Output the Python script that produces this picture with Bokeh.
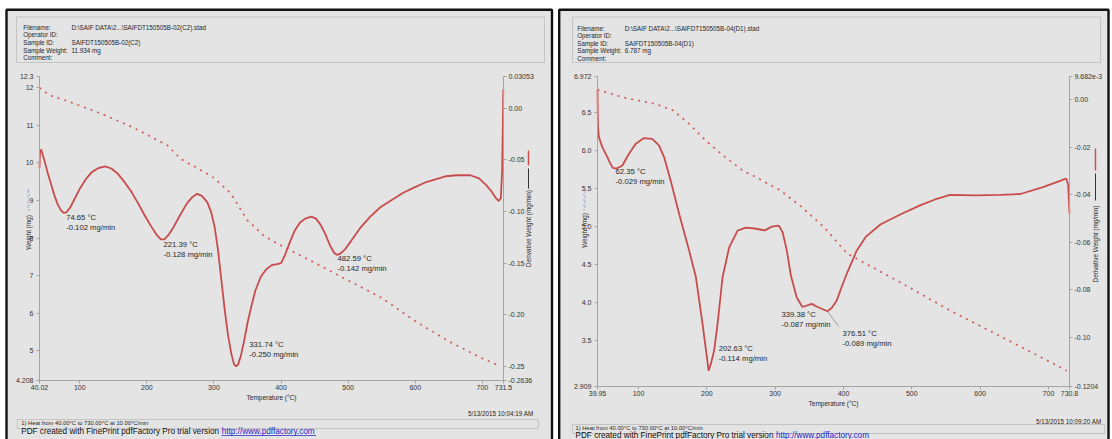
import math
from bokeh.plotting import figure
from bokeh.models import Range1d, LinearAxis, FixedTicker, Label, BoxAnnotation
from bokeh.layouts import row
from bokeh.embed import file_html
from bokeh.resources import INLINE

FONT = "Liberation Sans"
BG = "#e4e4e4"
RED = "#c94c4c"
DOT = "#d05a5a"
AX = "#a4a4a4"
TXT = "#262626"

# ---------------- data : sample C2 (left) ----------------
c2_deriv_temp = [40.02, 40.8, 42.5, 47, 52, 57, 62, 67, 72, 76, 80, 86, 93, 101, 110, 118, 128, 138,
                 147, 156, 166, 176, 186, 196, 206, 215, 221, 226, 232, 240, 250, 260, 268, 275, 282,
                 290, 296, 301, 306, 311, 316, 321, 326, 330, 333, 336, 340, 345, 350, 356, 362, 370,
                 378, 386, 394, 400, 406, 413, 420, 428, 436, 445, 452, 459, 466, 473, 479, 483, 488,
                 495, 505, 518, 533, 548, 565, 582, 598, 615, 630, 645, 662, 682, 695, 705, 713, 720,
                 724.5, 727.5, 729.5, 730.5, 731.2]
c2_deriv = [-0.058, -0.042, -0.040, -0.050, -0.062, -0.073, -0.084, -0.093, -0.099, -0.1015, -0.101,
            -0.096, -0.087, -0.077, -0.068, -0.062, -0.058, -0.0565, -0.0585, -0.063, -0.071, -0.080,
            -0.091, -0.103, -0.114, -0.123, -0.127, -0.127, -0.123, -0.115, -0.103, -0.092, -0.086,
            -0.083, -0.085, -0.091, -0.101, -0.115, -0.137, -0.166, -0.195, -0.220, -0.238, -0.248,
            -0.250, -0.248, -0.240, -0.225, -0.208, -0.191, -0.176, -0.163, -0.156, -0.152, -0.151,
            -0.150, -0.142, -0.130, -0.119, -0.111, -0.107, -0.105, -0.107, -0.113, -0.122, -0.133,
            -0.140, -0.142, -0.141, -0.137, -0.128, -0.116, -0.105, -0.096, -0.089, -0.082, -0.077,
            -0.072, -0.069, -0.066, -0.065, -0.065, -0.068, -0.074, -0.080, -0.087, -0.090, -0.087,
            -0.060, -0.020, 0.018]
c2_weight_temp = [40.02, 55, 81, 131, 180, 231, 251, 281, 300, 325, 350, 375, 400, 449, 500, 549, 598,
                  648, 697, 724]
c2_weight = [12.0, 11.8, 11.65, 11.32, 10.94, 10.46, 10.1, 9.80, 9.6, 9.19, 8.47, 8.05, 7.80, 7.35,
             6.87, 6.42, 5.81, 5.27, 4.82, 4.61]
c2_peak_temp = [74.65, 221.39, 331.74, 482.59]
c2_peak_val = [-0.102, -0.128, -0.250, -0.142]

# ---------------- data : sample D1 (right) ----------------
d1_deriv_temp = [39.95, 40.6, 42, 47, 54.4, 58, 62.35, 68, 76.4, 86, 96, 108, 120, 130, 137.4, 147,
                 159.4, 174, 184, 193.7, 199, 202.6, 206, 210.7, 215.7, 223, 232.7, 245, 257, 270, 285,
                 295, 305.5, 311, 317, 323, 331.5, 339.4, 341, 353.5, 363, 376.5, 383, 390, 397, 405,
                 419.5, 433, 454, 483, 512, 534, 556, 593, 630, 659, 692, 719, 726, 729, 730.8]
d1_deriv = [0.004, -0.011, -0.0158, -0.020, -0.0242, -0.0265, -0.0287, -0.029, -0.0277, -0.0228,
            -0.0186, -0.0162, -0.0165, -0.0193, -0.0242, -0.034, -0.048, -0.0634, -0.0747, -0.0943,
            -0.106, -0.114, -0.111, -0.1055, -0.0943, -0.0747, -0.0621, -0.0551, -0.0538, -0.0542,
            -0.055, -0.0534, -0.053, -0.0559, -0.0634, -0.074, -0.0831, -0.087, -0.0871, -0.0859,
            -0.0873, -0.089, -0.0875, -0.0845, -0.079, -0.0731, -0.0634, -0.0576, -0.0525, -0.0483,
            -0.0445, -0.0420, -0.0401, -0.0403, -0.0401, -0.0397, -0.0368, -0.0340, -0.0332, -0.036,
            -0.0479]
d1_weight_temp = [39.95, 76, 125, 150, 174, 198.5, 223, 252, 272, 307, 336, 373, 405, 483, 556, 630, 727]
d1_weight = [6.80, 6.70, 6.61, 6.53, 6.35, 6.13, 5.94, 5.74, 5.65, 5.48, 5.28, 4.98, 4.65, 4.27, 3.90,
             3.56, 3.11]
d1_peak_temp = [62.35, 202.63, 339.38, 376.51]
d1_peak_val = [-0.029, -0.114, -0.087, -0.089]

# ---------------- axes ticks / labels ----------------
c2_xticks = [40.02, 100, 200, 300, 400, 500, 600, 700, 731.5]
c2_xlabels = ["40.02", "100", "200", "300", "400", "500", "600", "700", "731.5"]
c2_yticks = [4.208, 5, 6, 7, 8, 9, 10, 11, 12, 12.3]
c2_ylabels = ["4.208", "5", "6", "7", "8", "9", "10", "11", "12", "12.3"]
c2_dticks = [-0.2636, -0.25, -0.20, -0.15, -0.10, -0.05, 0.0, 0.03053]
c2_dlabels = ["-0.2636", "-0.25", "-0.20", "-0.15", "-0.10", "-0.05", "0.00", "0.03053"]

d1_xticks = [39.95, 100, 200, 300, 400, 500, 600, 700, 730.8]
d1_xlabels = ["39.95", "100", "200", "300", "400", "500", "600", "700", "730.8"]
d1_yticks = [2.909, 3.5, 4.0, 4.5, 5.0, 5.5, 6.0, 6.5, 6.972]
d1_ylabels = ["2.909", "3.5", "4.0", "4.5", "5.0", "5.5", "6.0", "6.5", "6.972"]
d1_dticks = [-0.1204, -0.10, -0.08, -0.06, -0.04, -0.02, 0.0, 0.009682]
d1_dlabels = ["-0.1204", "-0.10", "-0.08", "-0.06", "-0.04", "-0.02", "0.00", "9.682e-3"]

c2_header = ["D:\\SAIF DATA\\2...\\SAIFDT150505B-02(C2).stad", "", "SAIFDT150505B-02(C2)", "11.934 mg", ""]
d1_header = ["D:\\SAIF DATA\\2...\\SAIFDT150505B-04(D1).stad", "", "SAIFDT150505B-04(D1)", "6.787 mg", ""]
header_keys = ["Filename:", "Operator ID:", "Sample ID:", "Sample Weight:", "Comment:"]
heat_text = "1)  Heat from 40.00\u00b0C to 730.00\u00b0C at 10.00\u00b0C/min"
pdf_text = "PDF created with FinePrint pdfFactory Pro trial version"
pdf_link = "http://www.pdffactory.com"


def style_axis(ax, ticks, labels, standoff):
    ax.ticker = FixedTicker(ticks=ticks)
    ax.major_label_overrides = dict(zip(ticks, labels))
    ax.axis_line_color = AX
    ax.major_tick_line_color = AX
    ax.minor_tick_line_color = None
    ax.major_tick_out = 3
    ax.major_tick_in = 0
    ax.major_label_text_font = FONT
    ax.major_label_text_font_size = "7px"
    ax.major_label_text_color = "#333333"
    ax.major_label_standoff = standoff
    ax.bounds = (ticks[0], ticks[-1])


def xrange_for(a, b, pa, pb, size):
    s = (pb - pa) / (b - a)
    return Range1d(a - pa / s, a + (size - pa) / s), s


def yrange_for(lo, hi, ptop, pbot, size):
    s = (pbot - ptop) / (hi - lo)
    return Range1d(hi - (size - ptop) / s, hi + ptop / s), s


def panel(cfg):
    W, H = cfg["W"], cfg["H"]
    L, R, T, B = cfg["plot"]
    xt, yt, dt = cfg["xt"], cfg["yt"], cfg["dt"]
    xrng, xs = xrange_for(xt[0], xt[-1], L, R, W)
    yrng, _ = yrange_for(yt[0], yt[-1], T, B, H)
    drng, ds = yrange_for(dt[0], dt[-1], T, B, H)
    p = figure(width=W, height=H, x_range=xrng, y_range=yrng,
               output_backend="svg", toolbar_location=None, min_border=0,
               min_border_left=0, min_border_right=0, min_border_top=0, min_border_bottom=0)
    p.extra_y_ranges = {"d": drng}
    p.background_fill_color = "white"
    p.border_fill_color = "white"
    p.outline_line_color = None
    p.grid.visible = False

    xa = p.xaxis[0]
    style_axis(xa, xt, cfg["xl"], cfg["xstand"])
    xa.fixed_location = yt[0]
    ya = p.yaxis[0]
    style_axis(ya, yt, cfg["yl"], 3)
    ya.fixed_location = xt[0]
    rax = LinearAxis(y_range_name="d")
    style_axis(rax, dt, cfg["dl"], 2)
    rax.fixed_location = xt[-1]
    p.add_layout(rax, "right")

    def txt(X, Y, s, size, align="left", color=TXT, angle=0.0):
        p.add_layout(Label(x=X, y=H - Y, x_units="screen", y_units="screen", text=s,
                           text_font=FONT, text_font_size=size, text_align=align,
                           text_baseline="middle", text_color=color, angle=angle))

    def box(X0, Y0, X1, Y1, fill=None, line=None, lw=1.0, dash="solid", level="annotation"):
        p.add_layout(BoxAnnotation(left=X0, right=X1, top=H - Y0, bottom=H - Y1,
                                   left_units="screen", right_units="screen",
                                   top_units="screen", bottom_units="screen",
                                   fill_color=fill, fill_alpha=1.0 if fill else 0.0,
                                   line_color=line, line_alpha=1.0 if line else 0.0,
                                   line_width=lw, line_dash=dash, level=level))

    # panel background and black frame
    fx0, fy0, fx1 = cfg["frame"]
    box(fx0, fy0, fx1, H + 20, fill=BG, line="#111111", lw=2.4, level="underlay")

    # curves
    p.line(cfg["wT"], cfg["w"], line_color=DOT, line_width=1.7, line_dash="2 5")
    p.line(cfg["dT"], cfg["d"], y_range_name="d", line_color=RED, line_width=1.8)

    # peak annotations
    for (Tp, v), (dx, dy) in zip(zip(cfg["pT"], cfg["pv"]), cfg["poff"]):
        p.add_layout(Label(x=Tp, y=v, y_range_name="d", x_offset=dx, y_offset=dy,
                           text="%.2f \u00b0C" % Tp, text_font=FONT, text_font_size="7.7px",
                           text_baseline="middle", text_color=TXT))
        p.add_layout(Label(x=Tp, y=v, y_range_name="d", x_offset=dx, y_offset=dy - 10,
                           text="%.3f mg/min" % v, text_font=FONT, text_font_size="7.7px",
                           text_baseline="middle", text_color=TXT))
    if cfg.get("leader") is not None:
        i, ddx, ddy = cfg["leader"]
        Tp, v = cfg["pT"][i], cfg["pv"][i]
        p.segment(x0=[Tp], y0=[v], x1=[Tp + ddx / xs], y1=[v - ddy / ds], y_range_name="d",
                  line_color="#8a8a8a", line_width=0.8)

    # header
    hx0, hy0, hx1, hy1 = cfg["hbox"]
    box(hx0, hy0, hx1, hy1, line="#c4c4c4", lw=1.0)
    for k, (key, val) in enumerate(zip(header_keys, cfg["header"])):
        yy = cfg["hy"] + 7.65 * k
        txt(cfg["hkx"], yy, key, "6.3px")
        if val:
            txt(cfg["hvx"], yy, val, "6.3px")

    # axis titles
    wx, wyc, d0, d1 = cfg["wtitle"]
    txt(wx, wyc, "Weight (mg)", "6.4px", align="center", angle=math.pi / 2)
    box(wx - 0.5, d0, wx + 0.5, d1, line="#7d8fb0", lw=1.4, dash="1 4")
    rx, ryc, r0, r1, k0, k1 = cfg["dtitle"]
    txt(rx, ryc, "Derivative Weight (mg/min)", "6.4px", align="center", angle=math.pi / 2)
    box(rx - 0.7, r0, rx + 0.7, r1, fill=RED)
    box(rx - 0.5, k0, rx + 0.5, k1, fill="#333333")
    tx, ty = cfg["ttitle"]
    txt(tx, ty, "Temperature (\u00b0C)", "6.5px", align="center")

    # footer
    dxr, dyc = cfg["date_pos"]
    txt(dxr, dyc, cfg["date"], "6.3px", align="right")
    bx0, by0, bx1, by1 = cfg["fbox"]
    box(bx0, by0, bx1, by1, line="#c4c4c4", lw=1.0)
    txt(cfg["foot_x"], by0 + 3.6, heat_text, "5.8px")
    px, py = cfg["pdf_pos"]
    txt(px, py, pdf_text, "8.2px", color="#111111")
    lx = px + 200.5
    txt(lx, py, pdf_link, "8.2px", color="#2424c8")
    box(lx, py + 4.0, lx + 94.3, py + 4.8, fill="#2424c8")
    return p


left_cfg = dict(W=554, H=439, plot=(39, 503, 76, 380), xstand=1,
                xt=c2_xticks, xl=c2_xlabels, yt=c2_yticks, yl=c2_ylabels, dt=c2_dticks, dl=c2_dlabels,
                wT=c2_weight_temp, w=c2_weight, dT=c2_deriv_temp, d=c2_deriv,
                pT=c2_peak_temp, pv=c2_peak_val,
                poff=[(3.4, -4), (2.3, -4.2), (14, 22), (1, -3.7)], leader=None,
                frame=(6, 9.3, 551.5), hbox=(16, 16.5, 544, 62), hy=26.7, hkx=22.7, hvx=71,
                header=c2_header, wtitle=(28, 232, 190, 210),
                dtitle=(528, 228, 150, 165, 168, 188), ttitle=(271, 396.7),
                date="5/13/2015 10:04:19 AM", date_pos=(533, 413),
                fbox=(16.7, 419, 538, 428), foot_x=20.7, pdf_pos=(20.7, 430.5))

right_cfg = dict(W=558, H=439, plot=(43, 515, 76, 385.5), xstand=2,
                 xt=d1_xticks, xl=d1_xlabels, yt=d1_yticks, yl=d1_ylabels, dt=d1_dticks, dl=d1_dlabels,
                 wT=d1_weight_temp, w=d1_weight, dT=d1_deriv_temp, d=d1_deriv,
                 pT=d1_peak_temp, pv=d1_peak_val,
                 poff=[(2.7, -2.8), (10, 22.7), (-20.6, -7.6), (15, -21.8)], leader=(3, 11, 15),
                 frame=(4.7, 9.3, 554), hbox=(18, 16.5, 546, 62), hy=27.5, hkx=22.7, hvx=70.3,
                 header=d1_header, wtitle=(30, 230, 187, 210),
                 dtitle=(541, 243.5, 148, 170, 173, 200), ttitle=(279, 403),
                 date="5/13/2015 10:09:20 AM", date_pos=(547, 420.5),
                 fbox=(18, 424, 550, 433), foot_x=21, pdf_pos=(21, 435.4))

p1 = panel(left_cfg)
p2 = panel(right_cfg)
layout = row(p1, p2, spacing=0)
open("out.html", "w").write(file_html(layout, INLINE))
